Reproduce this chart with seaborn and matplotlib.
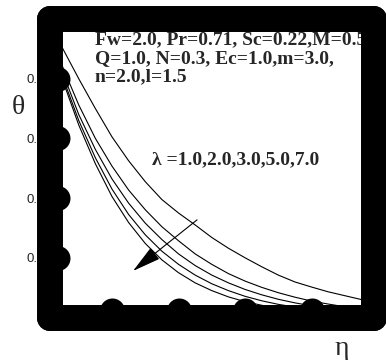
import numpy as np
import pandas as pd
import seaborn as sns
import matplotlib.pyplot as plt
from matplotlib.path import Path

# similarity variable and temperature profiles
eta = [0.0, 0.25, 0.5, 0.75, 1.0, 1.25, 1.5, 1.75, 2.0, 2.25, 2.5,
       2.75, 3.0, 3.25, 3.5, 3.75, 4.0, 4.25, 4.5, 4.75, 5.0]
theta_lam1 = [1.0, 0.905, 0.80, 0.70, 0.605, 0.525, 0.455, 0.395, 0.350, 0.310, 0.268,
              0.232, 0.200, 0.170, 0.142, 0.119, 0.102, 0.086, 0.073, 0.060, 0.048]
theta_lam2 = [1.0, 0.844, 0.712, 0.600, 0.507, 0.427, 0.361, 0.304, 0.257, 0.213, 0.178,
              0.147, 0.122, 0.101, 0.083, 0.068, 0.055, 0.045, 0.036, 0.028, 0.020]
theta_lam3 = [1.0, 0.825, 0.680, 0.563, 0.464, 0.383, 0.316, 0.261, 0.213, 0.174, 0.142,
              0.116, 0.094, 0.076, 0.061, 0.049, 0.039, 0.031, 0.024, 0.018, 0.013]
theta_lam5 = [1.0, 0.810, 0.660, 0.535, 0.430, 0.345, 0.277, 0.222, 0.178, 0.142, 0.113,
              0.090, 0.071, 0.056, 0.044, 0.035, 0.027, 0.021, 0.016, 0.012, 0.009]
theta_lam7 = [1.0, 0.800, 0.645, 0.515, 0.405, 0.318, 0.248, 0.193, 0.150, 0.116, 0.090,
              0.069, 0.053, 0.041, 0.031, 0.024, 0.018, 0.014, 0.010, 0.008, 0.006]
lambdas = ['1.0', '2.0', '3.0', '5.0', '7.0']

y_ticks = [0.2, 0.4, 0.6, 0.8]
y_ticklabels = ['0.2', '0.4', '0.6', '0.8']
x_ticks = [1, 2, 3, 4]

params_text = 'Fw=2.0, Pr=0.71, Sc=0.22,M=0.5\nQ=1.0, N=0.3, Ec=1.0,m=3.0,\nn=2.0,l=1.5'
lambda_text = 'λ =1.0,2.0,3.0,5.0,7.0'

df = pd.concat([
    pd.DataFrame({'eta': eta, 'theta': th, 'lam': lam})
    for th, lam in zip([theta_lam1, theta_lam2, theta_lam3, theta_lam5, theta_lam7], lambdas)
])

sns.set_style('white')
plt.rcParams['font.family'] = ['Liberation Serif', 'DejaVu Serif']

fig = plt.figure(figsize=(3.86, 3.6), dpi=100)
ax = fig.add_axes([50 / 386, 1 - 317.5 / 360, 323.5 / 386, 298.5 / 360])

sns.lineplot(data=df, x='eta', y='theta', hue='lam', palette=['black'] * 5,
             estimator=None, legend=False, linewidth=0.8, ax=ax)

ax.set_xlim(0.068, 4.93)
ax.set_ylim(0, 1)
ax.set_xticks(x_ticks)
ax.set_yticks(y_ticks)
ax.set_yticklabels(y_ticklabels, fontfamily='Liberation Sans', fontsize=9.5)
ax.tick_params(axis='x', labelbottom=False, bottom=True, top=False)
ax.tick_params(axis='y', left=True, right=False, pad=3.7, direction='in')

# heavy rounded frame
for sp in ax.spines.values():
    sp.set_linewidth(18.7)
    sp.set_color('black')
    sp.set_capstyle('round')
    sp.set_zorder(4)

ax.set_xlabel('η', fontsize=20, va='top')
ax.set_ylabel('θ', fontsize=20, rotation=0, ha='center', va='center')
ax.xaxis.set_label_coords(0.903, -0.062)
ax.yaxis.set_label_coords(-0.099, 0.705)

ax.text(0.744, 0.958, params_text, fontsize=14, fontweight='bold',
        va='top', ha='left', linespacing=1.12, zorder=2)
ax.text(1.60, 0.528, lambda_text, fontsize=14, fontweight='bold',
        va='center', ha='left', zorder=2)

ax.annotate('', xy=(1.316, 0.156), xytext=(2.278, 0.327),
            arrowprops=dict(arrowstyle='-|>,head_length=1.0,head_width=0.25',
                            mutation_scale=18, lw=0.8, color='black',
                            shrinkA=0, shrinkB=0))

# round tick dots sitting on the inner edge of the frame
dot_y = Path.circle(center=(7.5, 0), radius=12.5)
dot_x = Path.circle(center=(0, 7.5), radius=12.5)
for t in ax.yaxis.get_major_ticks():
    t.tick1line.set_marker(dot_y)
    t.tick1line.set_markersize(28.8)
    t.tick1line.set_markerfacecolor('black')
    t.tick1line.set_markeredgewidth(0)
    t.tick1line.set_zorder(5)
for t in ax.xaxis.get_major_ticks():
    t.tick1line.set_marker(dot_x)
    t.tick1line.set_markersize(28.8)
    t.tick1line.set_markerfacecolor('black')
    t.tick1line.set_markeredgewidth(0)

fig.savefig('out.png', dpi=100)
plt.close(fig)
